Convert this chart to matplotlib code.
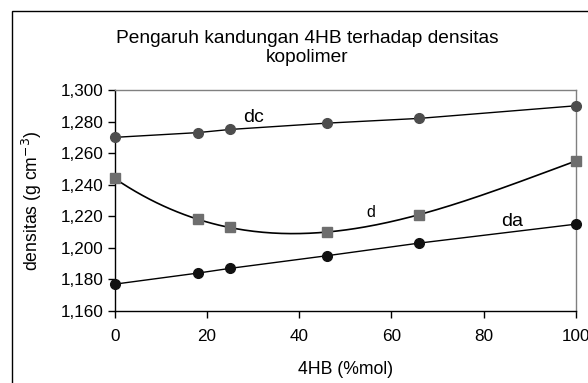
import numpy as np
import matplotlib
matplotlib.use("Agg")
import matplotlib.pyplot as plt
from matplotlib.patches import Rectangle
from matplotlib.ticker import FuncFormatter

plt.rcParams['font.family'] = ['Liberation Sans', 'DejaVu Sans']

# data
x_4hb = [0, 18, 25, 46, 66, 100]
dc = [1.270, 1.273, 1.275, 1.279, 1.282, 1.290]
d = [1.244, 1.218, 1.213, 1.210, 1.221, 1.255]
da = [1.177, 1.184, 1.187, 1.195, 1.203, 1.215]
y_ticks = [1.16, 1.18, 1.20, 1.22, 1.24, 1.26, 1.28, 1.30]
x_ticks = [0, 20, 40, 60, 80, 100]

fig = plt.figure(figsize=(5.88, 3.83), dpi=100)
ax = fig.add_axes([114.7 / 588, 1 - 311 / 383, (575.7 - 114.7) / 588, (311 - 90) / 383])

# outer chart frame
fig.patches.append(Rectangle((12 / 588, -0.1), 1.2, 1 - 11 / 383 + 0.1,
                             transform=fig.transFigure, fill=False,
                             edgecolor='black', lw=1.0))

ax.plot(x_4hb, dc, color='black', lw=1.0, zorder=2)
ax.plot(x_4hb, dc, 'o', color='#4d4d4d', ms=7, zorder=3, clip_on=False)

# polynomial trendline (order 3) for d
coef = np.polyfit(x_4hb, d, 3)
xx = np.linspace(min(x_4hb), max(x_4hb), 200)
ax.plot(xx, np.polyval(coef, xx), color='black', lw=1.2, zorder=2)
ax.plot(x_4hb, d, 's', color='#6e6e6e', ms=6.5, zorder=3, clip_on=False)

ax.plot(x_4hb, da, color='black', lw=1.0, zorder=2)
ax.plot(x_4hb, da, 'o', color='#111111', ms=7, zorder=3, clip_on=False)

ax.text(30.2, 1.2826, 'dc', fontsize=14, ha='center', va='center')
ax.text(55.5, 1.2226, 'd', fontsize=11.5, ha='center', va='center')
ax.text(86.2, 1.2167, 'da', fontsize=14, ha='center', va='center')

ax.set_xlim(0, 100)
ax.set_ylim(1.16, 1.30)
ax.set_xticks(x_ticks)
ax.set_yticks(y_ticks)
ax.yaxis.set_major_formatter(FuncFormatter(lambda v, p: ('%.3f' % v).replace('.', ',')))
ax.tick_params(direction='out', length=5, width=1, labelsize=12.3, pad=3)
ax.tick_params(axis='x', pad=8)
ax.spines['top'].set_color('#808080')
ax.spines['right'].set_color('#808080')
for s in ax.spines.values():
    s.set_linewidth(1.0)

ax.set_xlabel('4HB (%mol)', fontsize=12.7, labelpad=12)
ax.set_ylabel('densitas (g cm$^{-3}$)', fontsize=12.7, labelpad=12)

fig.text(307 / 588, 1 - 48 / 383, 'Pengaruh kandungan 4HB terhadap densitas\nkopolimer',
         ha='center', va='center', fontsize=13.8, linespacing=1.15)

fig.savefig('out.png', dpi=100)
